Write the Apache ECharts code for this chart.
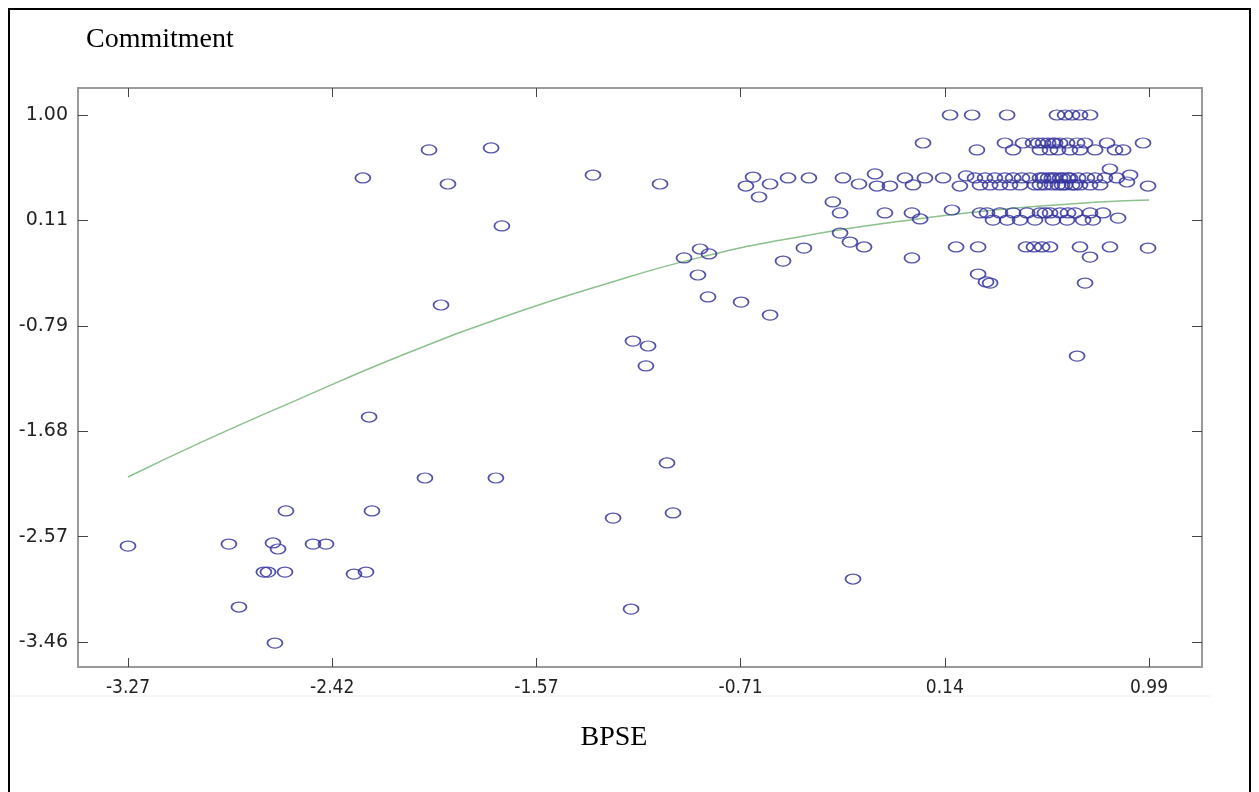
<!DOCTYPE html>
<html>
<head>
<meta charset="utf-8">
<script src="https://cdn.jsdelivr.net/npm/echarts@6/dist/echarts.min.js"></script>
<style>
html,body{margin:0;padding:0;background:#fff;}
#chart{width:1259px;height:792px;}
</style>
</head>
<body>
<div id="chart"></div>
<script>
// ---- tick values and labels ----
const xTickValues = [-3.27, -2.418, -1.566, -0.714, 0.138, 0.99];
const xTickLabels = ['-3.27', '-2.42', '-1.57', '-0.71', '0.14', '0.99'];
const yTickValues = [1.00, 0.108, -0.784, -1.676, -2.568, -3.46];
const yTickLabels = ['1.00', '0.11', '-0.79', '-1.68', '-2.57', '-3.46'];

const xTitle = 'BPSE';
const yTitle = 'Commitment';

// ---- scatter points [BPSE, Commitment] ----
const pointsLow = [
  [-3.270, -2.648], [-2.849, -2.631], [-2.807, -3.164], [-2.665, -2.622], [-2.644, -2.673],
  [-2.703, -2.868], [-2.686, -2.868], [-2.615, -2.868], [-2.611, -2.351], [-2.657, -3.469],
  [-2.498, -2.631], [-2.444, -2.631], [-2.327, -2.885], [-2.277, -2.868], [-2.252, -2.351],
  [-2.264, -1.556], [-2.031, -2.072], [-1.735, -2.072], [-1.246, -2.411], [-1.171, -3.181],
  [-1.021, -1.945], [-0.996, -2.368], [-0.245, -2.927]
];
const pointsMid = [
  [-2.290, 0.467], [-2.014, 0.704], [-1.935, 0.416], [-1.964, -0.608], [-1.755, 0.721],
  [-1.710, 0.061], [-1.330, 0.492], [-1.163, -0.913], [-1.100, -0.955], [-1.109, -1.124],
  [-1.050, 0.416], [-0.950, -0.210], [-0.883, -0.134], [-0.846, -0.176], [-0.892, -0.354],
  [-0.850, -0.540], [-0.712, -0.583], [-0.591, -0.693], [-0.537, -0.236], [-0.450, -0.126],
  [-0.692, 0.399], [-0.662, 0.475], [-0.637, 0.306], [-0.591, 0.416], [-0.516, 0.467],
  [-0.429, 0.467], [-0.287, 0.467], [-0.220, 0.416], [-0.329, 0.264], [-0.299, 0.171],
  [-0.299, 0.001], [-0.258, -0.075], [-0.199, -0.117], [-0.153, 0.501], [-0.145, 0.399],
  [-0.091, 0.399], [-0.112, 0.171]
];
const pointsHighSparse = [
  [0.001, 0.171], [0.035, 0.120], [0.001, -0.210], [-0.028, 0.467], [0.005, 0.408],
  [0.055, 0.467], [0.047, 0.763], [0.131, 0.467], [0.168, 0.196], [0.185, -0.117],
  [0.160, 1.000], [0.252, 1.000], [0.398, 1.000], [0.201, 0.399], [0.227, 0.484],
  [0.272, 0.704], [0.277, -0.117], [0.277, -0.346], [0.310, -0.413], [0.327, -0.422],
  [0.285, 0.171], [0.690, -1.040], [0.723, -0.422], [0.744, -0.202], [0.702, -0.117],
  [0.827, -0.117], [0.986, -0.126], [0.965, 0.763], [0.986, 0.399], [0.827, 0.543],
  [0.911, 0.492], [0.898, 0.433], [0.798, 0.171], [0.861, 0.128]
];
const rowTopX = [0.606, 0.640, 0.669, 0.702, 0.744];                 // Commitment 1.000
const row076X = [0.389, 0.464, 0.506, 0.527, 0.548, 0.569, 0.589, 0.598, 0.619, 0.648, 0.690, 0.723, 0.815]; // 0.763
const row070X = [0.423, 0.535, 0.577, 0.610, 0.660, 0.702, 0.765, 0.848, 0.882];               // 0.704
const row047X = [0.264, 0.306, 0.347, 0.389, 0.423, 0.460, 0.493, 0.535, 0.548, 0.569, 0.585, 0.598, 0.619, 0.631, 0.652, 0.660, 0.694, 0.731, 0.765, 0.806, 0.856]; // 0.467
const row041X = [0.285, 0.327, 0.368, 0.410, 0.452, 0.514, 0.535, 0.556, 0.585, 0.610, 0.627, 0.640, 0.669, 0.681, 0.702, 0.744, 0.786]; // 0.408
const row017X = [0.314, 0.368, 0.423, 0.481, 0.535, 0.556, 0.577, 0.619, 0.652, 0.681, 0.744];  // 0.171
const row011X = [0.339, 0.398, 0.452, 0.514, 0.589, 0.648, 0.715, 0.756];  // 0.111
const rowNeg012X = [0.477, 0.510, 0.544, 0.577];                            // -0.117
const rowLevels = [1.000, 0.763, 0.704, 0.467, 0.408, 0.171, 0.111, -0.117];

// ---- fitted curve points [BPSE, Commitment] ----
const fitCurve = [
  [-3.270, -2.064], [-2.970, -1.775], [-2.552, -1.400], [-2.135, -1.040], [-1.718, -0.720],
  [-1.301, -0.445], [-0.883, -0.205], [-0.466, -0.030], [-0.049, 0.100], [0.368, 0.200],
  [0.786, 0.264], [0.990, 0.281]
];

// ---- build ----
const rows = [rowTopX, row076X, row070X, row047X, row041X, row017X, row011X, rowNeg012X];
let scatterData = [].concat(pointsLow, pointsMid, pointsHighSparse);
rows.forEach((xs, i) => xs.forEach(x => scatterData.push([x, rowLevels[i]])));

// axis extents (plot frame extends beyond the ticks)
const xMin = -3.4786, xMax = 1.2111;
const yMin = -3.6716, yMax = 1.2285;

function lookup(vals, labels) {
  return function (v) {
    for (let i = 0; i < vals.length; i++) if (Math.abs(v - vals[i]) < 1e-6) return labels[i];
    return '';
  };
}

const frameLine = { show: true, onZero: false, lineStyle: { color: '#9a9a9a', width: 2 } };
const tickStyle = { color: '#444', width: 1 };

const chart = echarts.init(document.getElementById('chart'), null, { renderer: 'canvas' });
chart.setOption({
  animation: false,
  backgroundColor: '#ffffff',
  grid: { left: 78, right: 57, top: 88, bottom: 125, outerBoundsMode: 'none', containLabel: false },
  xAxis: [
    {
      type: 'value', position: 'bottom', min: xMin, max: xMax,
      axisLine: frameLine,
      axisTick: { show: true, inside: true, length: 9, customValues: xTickValues, lineStyle: tickStyle },
      axisLabel: {
        show: true, customValues: xTickValues, formatter: lookup(xTickValues, xTickLabels),
        fontFamily: "'Liberation Sans Narrow','DejaVu Sans Condensed','Liberation Sans',sans-serif",
        fontSize: 19, color: '#222', margin: 12
      },
      splitLine: { show: false }
    },
    {
      type: 'value', position: 'top', min: xMin, max: xMax,
      axisLine: frameLine,
      axisTick: { show: true, inside: true, length: 9, customValues: xTickValues, lineStyle: tickStyle },
      axisLabel: { show: false },
      splitLine: { show: false }
    }
  ],
  yAxis: [
    {
      type: 'value', position: 'left', min: yMin, max: yMax,
      axisLine: frameLine,
      axisTick: { show: true, inside: true, length: 10, customValues: yTickValues, lineStyle: tickStyle },
      axisLabel: {
        show: true, customValues: yTickValues, formatter: lookup(yTickValues, yTickLabels),
        fontFamily: "'DejaVu Sans',sans-serif", fontSize: 19, color: '#222', margin: 10
      },
      splitLine: { show: false }
    },
    {
      type: 'value', position: 'right', min: yMin, max: yMax,
      axisLine: frameLine,
      axisTick: { show: true, inside: true, length: 10, customValues: yTickValues, lineStyle: tickStyle },
      axisLabel: { show: false },
      splitLine: { show: false }
    }
  ],
  series: [
    {
      type: 'line', xAxisIndex: 0, yAxisIndex: 0, data: fitCurve, smooth: true,
      showSymbol: false, symbol: 'none',
      lineStyle: { color: '#8cc08c', width: 1.5 }, z: 2
    },
    {
      type: 'scatter', xAxisIndex: 0, yAxisIndex: 0, data: scatterData,
      symbol: 'circle', symbolSize: [15, 10],
      itemStyle: { color: 'rgba(255,255,255,0)', borderColor: '#34349e', borderWidth: 1.5, opacity: 0.85 },
      z: 3
    }
  ],
  graphic: [
    { type: 'rect', shape: { x: 9, y: 9, width: 1241, height: 820 }, style: { fill: 'none', stroke: '#000', lineWidth: 2 }, z: 10 },
    { type: 'line', shape: { x1: 10, y1: 696, x2: 1210, y2: 696 }, style: { stroke: '#ececec', lineWidth: 1 }, z: 1 },
    { type: 'text', x: 86, y: 40, style: { text: yTitle, font: "28px 'Liberation Serif', serif", fill: '#000', align: 'left', verticalAlign: 'middle' }, z: 10 },
    { type: 'text', x: 614, y: 738, style: { text: xTitle, font: "28px 'Liberation Serif', serif", fill: '#000', align: 'center', verticalAlign: 'middle' }, z: 10 }
  ]
});
</script>
</body>
</html>
